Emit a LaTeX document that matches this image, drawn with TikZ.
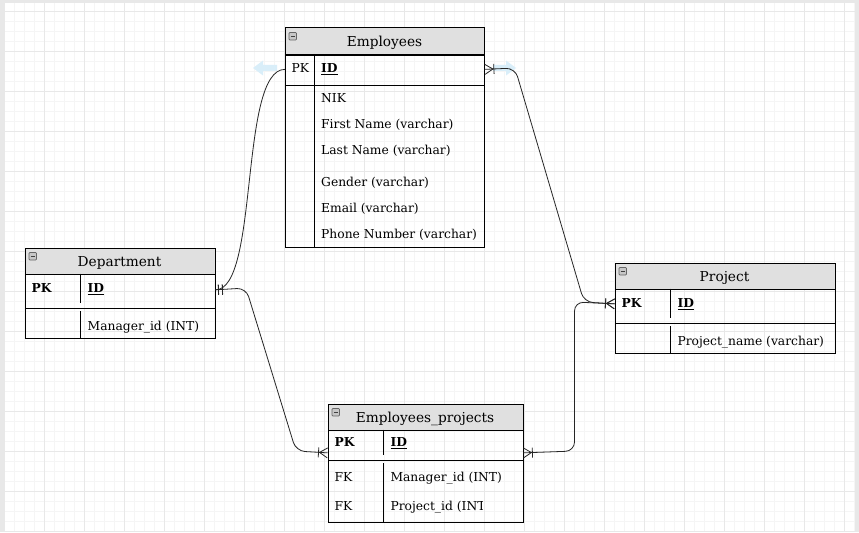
\documentclass[tikz,border=0pt]{standalone}
\usepackage{fontspec}
\setmainfont{DejaVu Serif}
\usetikzlibrary{arrows.meta, positioning, decorations.markings}

\definecolor{hdrgray}{HTML}{E0E0E0}
\definecolor{gridmajor}{HTML}{E8E8E8}
\definecolor{gridminor}{HTML}{F5F5F5}
\definecolor{hintblue}{HTML}{D9EEF9}
\definecolor{edgegray}{HTML}{E8E8E8}

\tikzset{
  minusbox/.pic={
    \draw[draw=black!60, fill=black!22, line width=0.7pt, rounded corners=0.8pt] (0,0) rectangle (7.5,7.5);
    \draw[black!75, line width=1pt] (1.8,3.75) -- (5.7,3.75);
  },
  one start/.style={postaction={decorate, decoration={markings,
      mark=at position 0 with {\draw[line width=0.8pt] (3pt,-5pt) -- (3pt,5pt) (7pt,-5pt) -- (7pt,5pt);}}}},
  many start/.style={postaction={decorate, decoration={markings,
      mark=at position 0 with {\draw[line width=0.8pt] (8pt,0) -- (0,5pt) (8pt,0) -- (0,-5pt) (9pt,-5pt) -- (9pt,5pt);}}}},
  many end/.style={postaction={decorate, decoration={markings,
      mark=at position 1 with {\draw[line width=0.8pt] (-8pt,0) -- (0,5pt) (-8pt,0) -- (0,-5pt) (-9pt,-5pt) -- (-9pt,5pt);}}}},
}

\begin{document}
\begin{tikzpicture}[x=1pt, y=-1pt,
    tbl/.style={draw, line width=0.9pt, inner sep=0, anchor=north west},
    hdr/.style={tbl, fill=hdrgray},
    txt/.style={anchor=base west, inner sep=0, font=\fontsize{12.3}{14}\selectfont},
    key/.style={txt, font=\fontsize{12.3}{14}\selectfont\bfseries},
    ttl/.style={anchor=base, inner sep=0, font=\fontsize{13.7}{16}\selectfont},
    col/.style={line width=0.9pt},
    conn/.style={draw=black!85, line width=0.8pt, rounded corners=9pt},
  ]
  % canvas and grid
  \fill[edgegray] (0,0) rectangle (859,532);
  \fill[white] (4,3) rectangle (855,532);
  \foreach \x in {4,14,...,854} \draw[gridminor, line width=0.5pt] (\x,3) -- (\x,532);
  \foreach \y in {11,21,...,531} \draw[gridminor, line width=0.5pt] (4,\y) -- (855,\y);
  \foreach \x in {4,44,...,844} \draw[gridmajor, line width=0.7pt] (\x,3) -- (\x,532);
  \foreach \y in {11,51,...,531} \draw[gridmajor, line width=0.7pt] (4,\y) -- (855,\y);

  % Employees
  \node[tbl, minimum width=199pt, minimum height=220pt] (emp) at (285,27) {};
  \node[hdr, minimum width=199pt, minimum height=27pt] (emp-h) at (emp.north west) {};
  \node[tbl, minimum width=199pt, minimum height=30pt] (emp-pk) at (emp-h.south west) {};
  \draw[col] (314,54) -- (314,247);
  \pic at (289,32.5) {minusbox};
  \node[ttl] (emp-t) at (384.5,46.5) {Employees};
  \node[txt] (emp-k) at (291.5,72.5) {PK};
  \node[txt] (emp-id) at (321,72.5) {\textbf{\underline{ID}}};
  \node[txt] (emp-a1) at (321,102) {NIK};
  \node[txt] (emp-a2) at (321,128) {First Name (varchar)};
  \node[txt] (emp-a3) at (321,154) {Last Name (varchar)};
  \node[txt] (emp-a4) at (321,186.5) {Gender (varchar)};
  \node[txt] (emp-a5) at (321,212.5) {Email (varchar)};
  \node[txt] (emp-a6) at (321,238.5) {Phone Number (varchar)};

  % Department
  \node[tbl, minimum width=190pt, minimum height=90pt] (dep) at (24.5,247.5) {};
  \node[hdr, minimum width=190pt, minimum height=26pt] (dep-h) at (dep.north west) {};
  \node[tbl, minimum width=190pt, minimum height=34pt] (dep-pk) at (dep-h.south west) {};
  \draw[col] (80.5,273.5) -- (80.5,303) (80.5,311) -- (80.5,337.5);
  \pic at (29,252.5) {minusbox};
  \node[ttl] (dep-t) at (119.5,266.5) {Department};
  \node[key] (dep-k) at (31.5,292.3) {PK};
  \node[txt] (dep-id) at (87.5,292.3) {\textbf{\underline{ID}}};
  \node[txt] (dep-a1) at (87.5,330) {Manager\_id (INT)};

  % Project
  \node[tbl, minimum width=220pt, minimum height=90pt] (proj) at (614.5,262.5) {};
  \node[hdr, minimum width=220pt, minimum height=26pt] (proj-h) at (proj.north west) {};
  \node[tbl, minimum width=220pt, minimum height=34pt] (proj-pk) at (proj-h.south west) {};
  \draw[col] (670.5,288.5) -- (670.5,318) (670.5,326) -- (670.5,352.5);
  \pic at (619,267.5) {minusbox};
  \node[ttl] (proj-t) at (724.5,281.5) {Project};
  \node[key] (proj-k) at (621.5,307.3) {PK};
  \node[txt] (proj-id) at (677.3,307.3) {\textbf{\underline{ID}}};
  \node[txt] (proj-a1) at (677.3,345) {Project\_name (varchar)};

  % Employees_projects
  \node[tbl, minimum width=195pt, minimum height=118pt] (ep) at (327.5,403.5) {};
  \node[hdr, minimum width=195pt, minimum height=26pt] (ep-h) at (ep.north west) {};
  \node[tbl, minimum width=195pt, minimum height=30pt] (ep-pk) at (ep-h.south west) {};
  \draw[col] (383.5,429.5) -- (383.5,455) (383.5,463) -- (383.5,521.5);
  \pic at (332,408.5) {minusbox};
  \node[ttl] (ep-t) at (425,422.3) {Employees\_projects};
  \node[key] (ep-k) at (334.3,446.7) {PK};
  \node[txt] (ep-id) at (390.3,446.7) {\textbf{\underline{ID}}};
  \node[txt] (ep-f1) at (334.3,481.7) {FK};
  \node[txt] (ep-a1) at (390.3,481.7) {Manager\_id (INT)};
  \node[txt] (ep-f2) at (334.3,510.7) {FK};
  \begin{scope}
    \clip (384,490) rectangle (482,520);
    \node[txt] (ep-a2) at (390.3,510.7) {Project\_id (INT)};
  \end{scope}

  % connection points
  \coordinate (emp-l) at ([yshift=1pt]emp-pk.west);
  \coordinate (emp-r) at ([yshift=1pt]emp-pk.east);
  \coordinate (dep-r) at ([yshift=2pt]dep-pk.east);
  \coordinate (proj-l) at ([yshift=3pt]proj-pk.west);
  \coordinate (ep-l) at ([yshift=-7pt]ep-pk.west);
  \coordinate (ep-r) at ([yshift=-7pt]ep-pk.east);

  % hover hints
  \fill[hintblue] (277,65) -- (263,65) -- (263,60.5) -- (253,68) -- (263,75.5) -- (263,71) -- (277,71) -- cycle;
  \fill[hintblue] (493,65) -- (506,65) -- (506,60.5) -- (516,68) -- (506,75.5) -- (506,71) -- (493,71) -- cycle;

  % relations
  \draw[conn, one start, many end] (dep-r) .. controls +(44,0) and +(-46,0) .. (emp-l);
  \draw[conn, one start, many end] (dep-r) -- (246,288) -- (296,451) -- (ep-l);
  \draw[conn, many start, many end] (emp-r) -- (515,68) -- (584,302) -- (proj-l);
  \draw[conn, many start, many end] (proj-l) -- (574.5,302) -- (574.5,451) -- (ep-r);
\end{tikzpicture}
\end{document}
